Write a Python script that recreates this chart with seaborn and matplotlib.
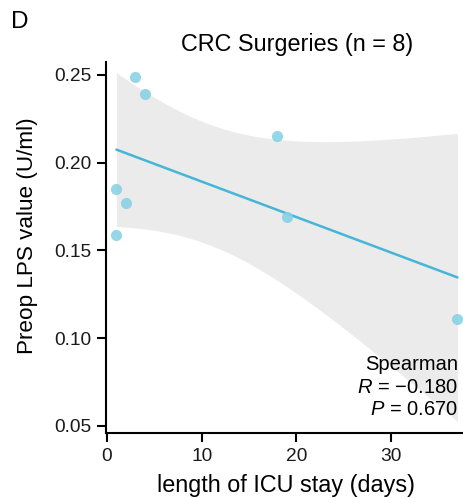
import numpy as np
import pandas as pd
import matplotlib
matplotlib.use("Agg")
import matplotlib.pyplot as plt
import seaborn as sns

# ICU length of stay vs preoperative LPS, CRC surgery patients
icu_days = [3, 4, 18, 1, 2, 1, 19, 37]
lps_value = [0.249, 0.239, 0.215, 0.185, 0.177, 0.159, 0.169, 0.111]
spearman_r = "\u22120.180"
spearman_p = "0.670"
x_ticks = [0, 10, 20, 30]
y_ticks = [0.05, 0.10, 0.15, 0.20, 0.25]

df = pd.DataFrame({"days": icu_days, "lps": lps_value})

sns.set_theme(style="ticks")
plt.rcParams["font.family"] = ["Liberation Sans", "DejaVu Sans"]
plt.rcParams["mathtext.fontset"] = "custom"
plt.rcParams["mathtext.it"] = "Liberation Sans:italic"
plt.rcParams["mathtext.rm"] = "Liberation Sans"

W, H = 464, 498
fig = plt.figure(figsize=(W / 100, H / 100), dpi=100)
ax = fig.add_axes([106 / W, (H - 433) / H, (474 - 106) / W, (433 - 62) / H])

# linear fit with a t-based 95% confidence band
x = np.asarray(icu_days, float)
y = np.asarray(lps_value, float)
n = len(x)
xm, ym = x.mean(), y.mean()
sxx = ((x - xm) ** 2).sum()
slope = ((x - xm) * (y - ym)).sum() / sxx
icpt = ym - slope * xm
resid = y - (icpt + slope * x)
s = np.sqrt((resid ** 2).sum() / (n - 2))
t975 = 2.446912  # t quantile, 6 degrees of freedom
xg = np.linspace(x.min(), x.max(), 200)
fit = icpt + slope * xg
se = s * np.sqrt(1 / n + (xg - xm) ** 2 / sxx)
ax.fill_between(xg, fit - t975 * se, fit + t975 * se, color="#ebebeb", lw=0, zorder=1)

sns.regplot(data=df, x="days", y="lps", ax=ax, ci=None, truncate=True,
            scatter_kws=dict(s=64, color="#86d1e4", alpha=0.88, linewidths=0, zorder=3),
            line_kws=dict(color="#45b5d8", lw=1.8, zorder=2))

ax.set_xlim(-0.1, 38.75)
ax.set_ylim(0.046, 0.2574)
ax.set_xticks(x_ticks)
ax.set_yticks(y_ticks)
ax.set_yticklabels([f"{v:.2f}" for v in y_ticks])
ax.set_xlabel("")
ax.set_ylabel("")
sns.despine(ax=ax)
for sp in ("left", "bottom"):
    ax.spines[sp].set_linewidth(1.5)
    ax.spines[sp].set_color("black")
ax.tick_params(axis="both", length=6.5, width=1.5, color="black",
               labelsize=13.8, labelcolor="#1a1a1a", pad=4)

fig.text(297 / W, 1 - 45 / H, "CRC Surgeries (n = 8)", ha="center", va="center",
         fontsize=16.8, color="black")
fig.text(286 / W, 1 - 492 / H, "length of ICU stay (days)", ha="center",
         va="baseline", fontsize=16.8, color="black")
fig.text(28 / W, 1 - 236 / H, "Preop LPS value (U/ml)", ha="center", va="center",
         rotation=90, fontsize=16.2, color="black")
fig.text(20 / W, 1 - 22 / H, "D", ha="center", va="center", fontsize=17.5, color="black")

for txt, base in [("Spearman", 370), (f"$R$ = {spearman_r}", 393),
                  (f"$P$ = {spearman_p}", 415)]:
    fig.text(458 / W, 1 - base / H, txt, ha="right", va="baseline",
             fontsize=14.5, color="black")

fig.savefig("out.png", dpi=100)
